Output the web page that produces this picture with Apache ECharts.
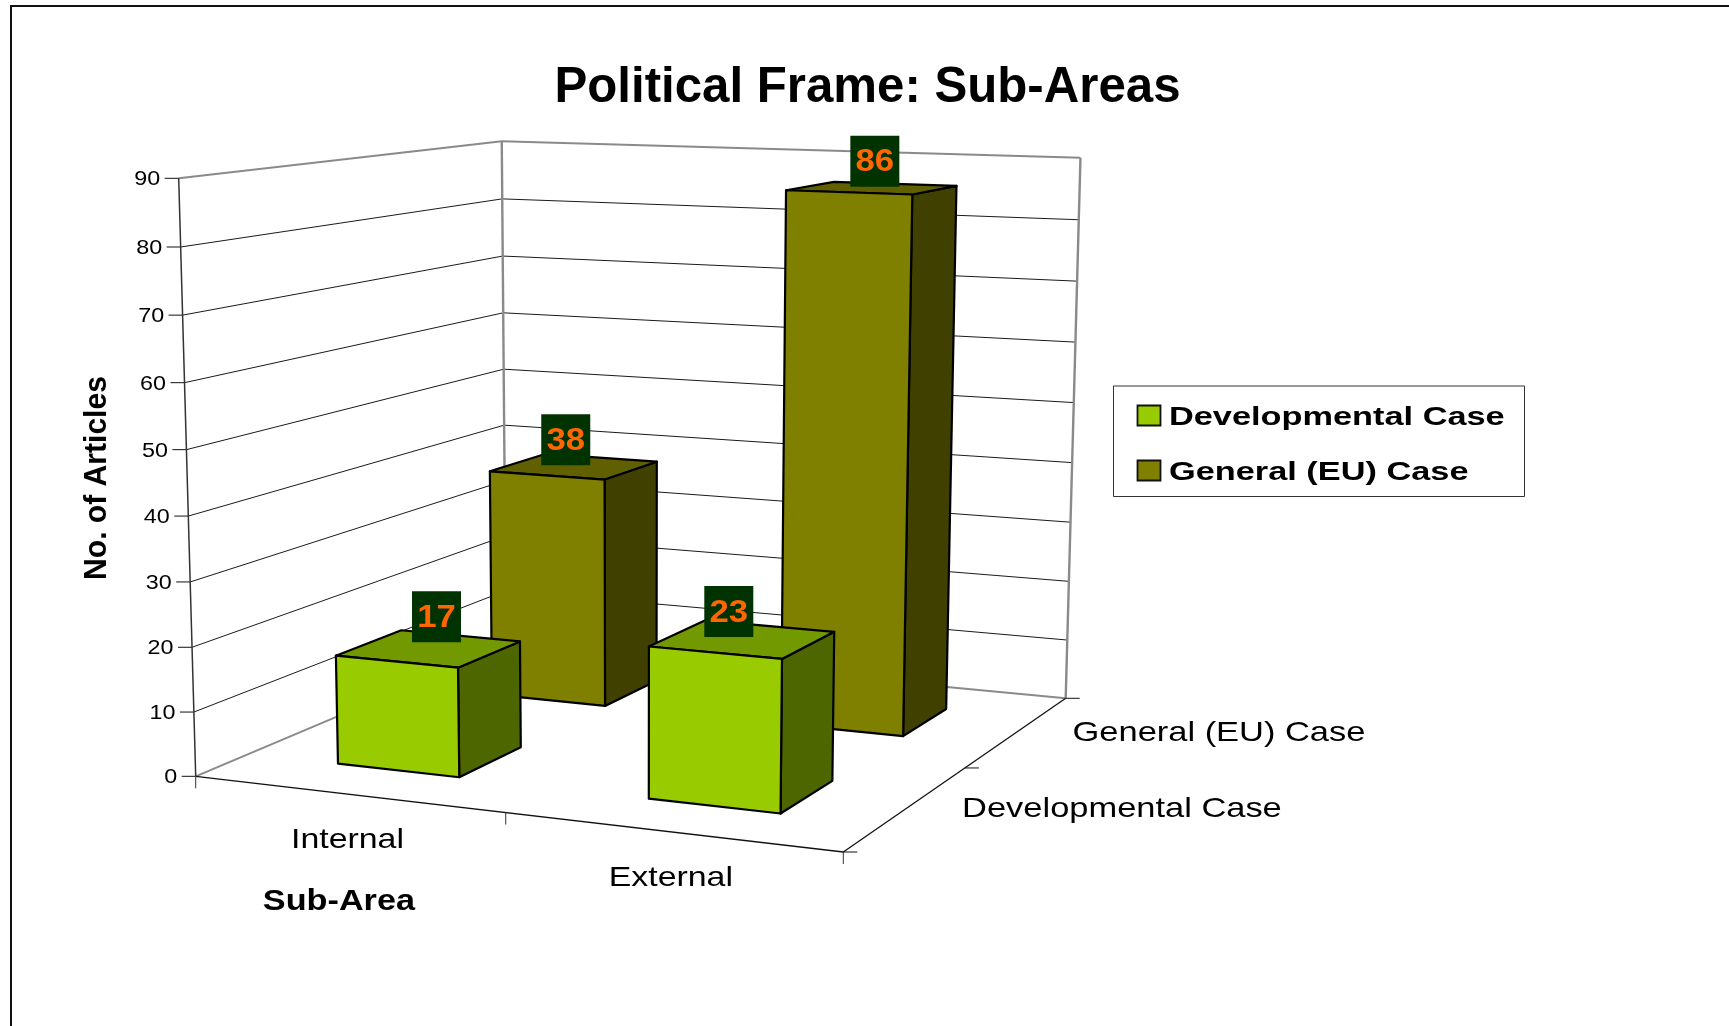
<!DOCTYPE html>
<html>
<head>
<meta charset="utf-8">
<style>html,body{margin:0;padding:0;background:#fff}#chart{width:1729px;height:1026px}</style>
<script src="https://cdn.jsdelivr.net/npm/echarts@6/dist/echarts.min.js"></script>
</head>
<body>
<div id="chart"></div>
<script>
// ---- chart data ----
const titleText = 'Political Frame: Sub-Areas';
const subAreas = ['Internal', 'External'];
const caseNames = ['Developmental Case', 'General (EU) Case'];
const developmentalValues = [17, 23];
const generalValues = [38, 86];
const yTicks = [0, 10, 20, 30, 40, 50, 60, 70, 80, 90];
const xAxisName = 'Sub-Area';
const yAxisName = 'No. of Articles';

// ---- look ----
const FONT = '"Liberation Sans", Arial, sans-serif';
const palette = {
  developmental: { front: '#99CC00', top: '#739900', side: '#4D6600' },
  general: { front: '#808000', top: '#606000', side: '#404000' }
};

// ---- projection of the 3D box (u along sub-areas, w along depth, t along value) ----
const corners = {
  o: [195.7, 776.3], x: [843.3, 852], z: [506, 645.2], xz: [1065.7, 698.3], t: [178.7, 178.3]
};
const verticalPerspective = -0.037;
const cam = (function () {
  const c = corners;
  const d1 = [c.x[0] - c.xz[0], c.x[1] - c.xz[1]];
  const d2 = [c.z[0] - c.xz[0], c.z[1] - c.xz[1]];
  const s = [c.o[0] - c.x[0] + c.xz[0] - c.z[0], c.o[1] - c.x[1] + c.xz[1] - c.z[1]];
  const det = d1[0] * d2[1] - d2[0] * d1[1];
  const a = (s[0] * d2[1] - d2[0] * s[1]) / det;
  const b = (d1[0] * s[1] - s[0] * d1[1]) / det;
  const k = verticalPerspective;
  return {
    a, b, k, p: c.o,
    px: [c.x[0] * (1 + a) - c.o[0], c.x[1] * (1 + a) - c.o[1]],
    pz: [c.z[0] * (1 + b) - c.o[0], c.z[1] * (1 + b) - c.o[1]],
    pt: [c.t[0] * (1 + k) - c.o[0], c.t[1] * (1 + k) - c.o[1]]
  };
})();
function project(u, w, t) {
  const d = 1 + cam.a * u + cam.b * w + cam.k * t;
  return [
    (cam.p[0] + cam.px[0] * u + cam.pz[0] * w + cam.pt[0] * t) / d,
    (cam.p[1] + cam.px[1] * u + cam.pz[1] * w + cam.pt[1] * t) / d
  ];
}
// plane position from the library's axes -> unit box fractions
function uOf(params, api, cat) { const cs = params.coordSys; return (api.coord([cat, 0])[0] - cs.x) / cs.width; }
function tOf(params, api, val) { const cs = params.coordSys; return (cs.y + cs.height - api.coord([0, val])[1]) / cs.height; }
function wOf(depthIndex) { return (depthIndex + 0.5) / caseNames.length; }
const BAR_RATIO = 0.4; // bar width as a share of its band

function seg(a, b, stroke, lineWidth) {
  return { type: 'line', shape: { x1: a[0], y1: a[1], x2: b[0], y2: b[1] }, style: { stroke, lineWidth, fill: null } };
}
function label(text, x, y, o) {
  return {
    type: 'text', x, y, scaleX: o.scale || 1, scaleY: 1, rotation: o.rotation || 0, z2: o.z2 || 0,
    style: {
      text, fontFamily: FONT, fontSize: o.size, fontWeight: o.weight || 'normal', fill: o.fill || '#000',
      align: o.align || 'center', verticalAlign: 'middle'
    }
  };
}

const GRID_LINE = '#1a1a1a', WALL_EDGE = '#8a8a8a', AXIS_LINE = '#111';
const TICK = 14;

function renderValueLevel(params, api) {
  const v = api.value(1);
  const t = tOf(params, api, v);
  const fl = project(0, 0, t), bl = project(0, 1, t), br = project(1, 1, t);
  const isEdge = v === yTicks[yTicks.length - 1] || v === yTicks[0];
  const children = [];
  children.push(seg(fl, bl, isEdge ? WALL_EDGE : GRID_LINE, isEdge ? 2 : 1));
  children.push(seg(bl, br, isEdge ? WALL_EDGE : GRID_LINE, isEdge ? 2 : 1));
  children.push(seg([fl[0] - TICK, fl[1]], fl, AXIS_LINE, 1));
  children.push(label(String(v), fl[0] - TICK - 4.5, fl[1] + 1.2, { size: 21, scale: 1.11, align: 'right' }));
  return { type: 'group', children };
}

function renderBoxFrame(params, api) {
  const tTop = tOf(params, api, yTicks[yTicks.length - 1]);
  const o = project(0, 0, 0), x = project(1, 0, 0), z = project(0, 1, 0), xz = project(1, 1, 0);
  const mid = project(0.5, 0, 0);
  const children = [
    seg(project(0, 0, tTop), o, '#333', 1.5),
    seg(project(0, 1, tTop), z, WALL_EDGE, 2.4),
    seg(project(1, 1, tTop), xz, WALL_EDGE, 2.4),
    seg(o, x, AXIS_LINE, 1.3),
    seg(x, xz, AXIS_LINE, 1.3),
    seg(o, [o[0], o[1] + TICK - 2], '#333', 1),
    seg(mid, [mid[0], mid[1] + TICK - 2], '#333', 1),
    seg(x, [x[0], x[1] + TICK - 2], '#333', 1)
  ];
  [0, 0.5, 1].forEach(function (w) {
    const p = project(1, w, 0);
    children.push(seg(p, [p[0] + TICK, p[1]], AXIS_LINE, 1));
  });
  subAreas.forEach(function (name, i) {
    const p = project(uOf(params, api, i), 0, 0);
    children.push(label(name, p[0], p[1] + 46, { size: 28, scale: 1.21 }));
  });
  caseNames.forEach(function (name, i) {
    const p = project(1, wOf(i), 0);
    children.push(label(name, p[0] + 55, p[1] + 1.5, { size: 28, scale: 1.23, align: 'left' }));
  });
  const nameAnchor = project(0.2232, 0, 0);
  children.push(label(xAxisName, nameAnchor[0] + 8, nameAnchor[1] + 110, { size: 29, weight: 'bold', scale: 1.18 }));
  children.push(label(yAxisName, 97, 478, { size: 31, weight: 'bold', scale: 0.97, rotation: Math.PI / 2 }));
  return { type: 'group', children };
}

// label placement relative to the centre of each bar's top face
const labelNudge = { '0,0': [7.6, -31.8], '0,1': [-13.8, -27.6], '1,0': [-8.4, -26.8], '1,1': [2.7, -26.7] };

function barRenderer(depthIndex, colors) {
  return function (params, api) {
    const cat = api.value(0), val = api.value(1);
    const uc = uOf(params, api, cat), wc = wOf(depthIndex);
    const band = api.size([1, 0])[0] / params.coordSys.width;
    const hu = band * BAR_RATIO / 2, hw = (1 / caseNames.length) * BAR_RATIO / 2;
    const t = tOf(params, api, val);
    const u0 = uc - hu, u1 = uc + hu, w0 = wc - hw, w1 = wc + hw;
    const p = function (u, w, tt) { return project(u, w, tt); };
    const edge = { stroke: '#000', lineWidth: 2.2, lineJoin: 'round' };
    const face = function (pts, fill) {
      return { type: 'polygon', shape: { points: pts }, style: Object.assign({ fill }, edge) };
    };
    const centre = p(uc, wc, t);
    const nudge = labelNudge[depthIndex + ',' + cat];
    const lx = centre[0] + nudge[0], ly = centre[1] + nudge[1];
    return {
      type: 'group',
      children: [
        face([p(u1, w0, 0), p(u1, w1, 0), p(u1, w1, t), p(u1, w0, t)], colors.side),
        face([p(u0, w0, t), p(u1, w0, t), p(u1, w1, t), p(u0, w1, t)], colors.top),
        face([p(u0, w0, 0), p(u1, w0, 0), p(u1, w0, t), p(u0, w0, t)], colors.front),
        { type: 'rect', shape: { x: lx - 24.5, y: ly - 25.5, width: 49, height: 51 }, style: { fill: '#003300' }, z2: 5 },
        label(String(val), lx, ly + 1.5, { size: 31, weight: 'bold', scale: 1.12, fill: '#FF6600', z2: 6 })
      ]
    };
  };
}

// legend drawn with the same stretched lettering as the chart
const legendRows = [palette.developmental.front, palette.general.front];
const legendGraphics = [
  { type: 'rect', shape: { x: 1113.5, y: 386, width: 411, height: 110.5 }, style: { fill: '#fff', stroke: '#333', lineWidth: 1 } }
];
caseNames.forEach(function (name, i) {
  const cy = i === 0 ? 415.5 : 470.5;
  legendGraphics.push({ type: 'rect', shape: { x: 1137.5, y: cy - 10, width: 23, height: 20 }, style: { fill: legendRows[i], stroke: '#111', lineWidth: 1.8 } });
  legendGraphics.push({
    type: 'text', x: 1169, y: cy + 2, scaleX: 1.32,
    style: { text: name, fontFamily: FONT, fontSize: 26, fontWeight: 'bold', fill: '#000', align: 'left', verticalAlign: 'middle' }
  });
});

const chart = echarts.init(document.getElementById('chart'), null, { renderer: 'canvas' });
chart.setOption({
  animation: false,
  backgroundColor: '#fff',
  title: {
    text: titleText, left: 862.5, top: 59, textAlign: 'center',
    textStyle: { fontFamily: FONT, fontSize: 49.2, fontWeight: 'bold', color: '#000' }
  },
  grid: { left: 0, right: 0, top: 0, bottom: 0, show: false },
  xAxis: { type: 'category', data: subAreas, show: false },
  yAxis: { type: 'value', min: 0, max: 90, interval: 10, show: false },
  graphic: [
    { type: 'polyline', shape: { points: [[11, 1030], [11, 6], [1735, 6]] }, style: { fill: null, stroke: '#111', lineWidth: 2 } }
  ].concat(legendGraphics),
  series: [
    {
      name: 'value levels', type: 'custom', coordinateSystem: 'cartesian2d', z: 1, silent: true, clip: false,
      encode: { x: 0, y: 1 }, data: yTicks.map(function (v) { return [0, v]; }), renderItem: renderValueLevel
    },
    {
      name: 'box frame', type: 'custom', coordinateSystem: 'cartesian2d', z: 2, silent: true, clip: false,
      encode: { x: 0, y: 1 }, data: [[0, 0]], renderItem: renderBoxFrame
    },
    {
      name: caseNames[1], type: 'custom', coordinateSystem: 'cartesian2d', z: 3, silent: true, clip: false,
      encode: { x: 0, y: 1 }, data: generalValues.map(function (v, i) { return [i, v]; }),
      renderItem: barRenderer(1, palette.general)
    },
    {
      name: caseNames[0], type: 'custom', coordinateSystem: 'cartesian2d', z: 4, silent: true, clip: false,
      encode: { x: 0, y: 1 }, data: developmentalValues.map(function (v, i) { return [i, v]; }),
      renderItem: barRenderer(0, palette.developmental)
    }
  ]
});
</script>
</body>
</html>
